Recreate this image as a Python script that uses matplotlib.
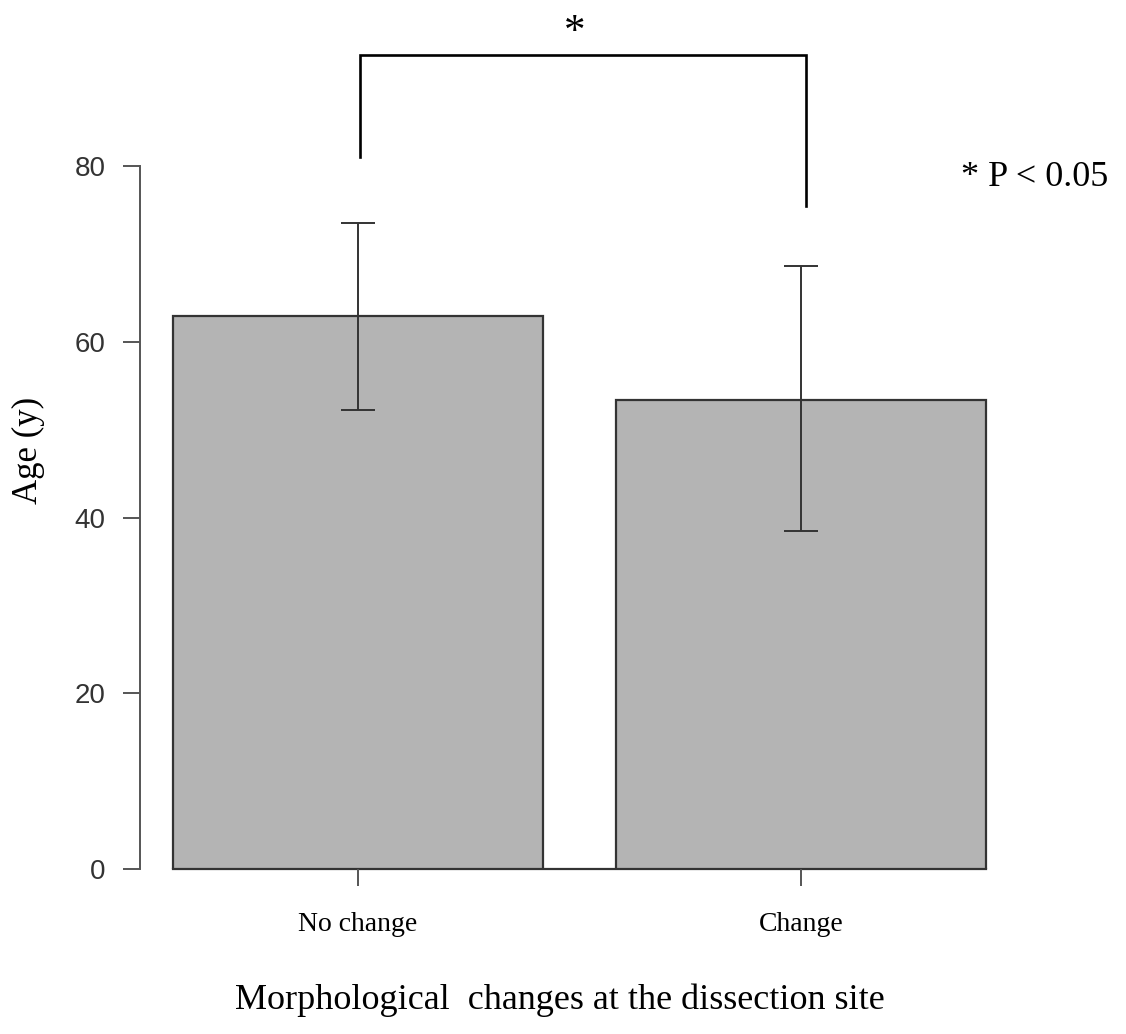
import numpy as np
import matplotlib
matplotlib.use('Agg')
import matplotlib.pyplot as plt

groups = ['No change', 'Change']
mean_age = [62.9, 53.4]
err_low = [52.2, 38.5]
err_high = [73.5, 68.6]
y_ticks = [0, 20, 40, 60, 80]

serif = ['Liberation Serif', 'DejaVu Serif']
sans = ['Liberation Sans', 'DejaVu Sans']

fig = plt.figure(figsize=(11.26, 10.34), dpi=100)
W, H = 1126, 1034
ax = fig.add_axes([140 / W, 1 - 869 / H, 860 / W, 703 / H])

x = np.arange(len(groups))
mean_age = np.array(mean_age)
yerr = np.array([mean_age - np.array(err_low), np.array(err_high) - mean_age])

ax.bar(x, mean_age, width=0.835, color='#b4b4b4', edgecolor='#333333', linewidth=1.6, zorder=2)
ax.errorbar(x, mean_age, yerr=yerr, fmt='none', ecolor='#333333', elinewidth=1.4,
            capsize=12.5, capthick=1.4, zorder=3)
# baseline between bars
ax.plot([x[0] - 0.4175, x[-1] + 0.4175], [0, 0], color='#333333', lw=1.6, zorder=1,
        clip_on=False)

ax.set_xlim(-0.492, 1.449)
ax.set_ylim(0, 80)

for s in ['top', 'right', 'bottom']:
    ax.spines[s].set_visible(False)
ax.spines['left'].set_color('#555555')
ax.spines['left'].set_linewidth(1.4)

ax.set_yticks(y_ticks)
ax.set_yticklabels([str(v) for v in y_ticks], family=sans, fontsize=20, color='#333333')
ax.tick_params(axis='y', length=12, width=1.4, color='#555555', pad=13)
ax.set_xticks(x)
ax.set_xticklabels(groups, family=serif, fontsize=20)
ax.tick_params(axis='x', length=12, width=1.4, color='#555555', pad=19)

ax.set_ylabel('Age (y)', family=serif, fontsize=25)
ax.yaxis.set_label_coords((28 - 140) / 860, (869 - 450) / 703)
ax.set_xlabel('Morphological  changes at the dissection site', family=serif, fontsize=26)
ax.xaxis.set_label_coords((560 - 140) / 860, (869 - 1000) / 703)
ax.xaxis.label.set_va('center')
ax.yaxis.label.set_va('center')

# significance bracket
bx0, bx1 = 0.005, 1.011
ax.plot([bx0, bx0, bx1, bx1], [81.0, 92.6, 92.6, 75.4], color='black', lw=1.9,
        clip_on=False, solid_joinstyle='miter')
ax.text(0.49, 94.0, '*', family=serif, fontsize=31, ha='center', va='baseline')
ax.text(1.528, 78.7, '* P < 0.05', family=serif, fontsize=26, ha='center', va='center')

fig.savefig('out.png', dpi=100)
